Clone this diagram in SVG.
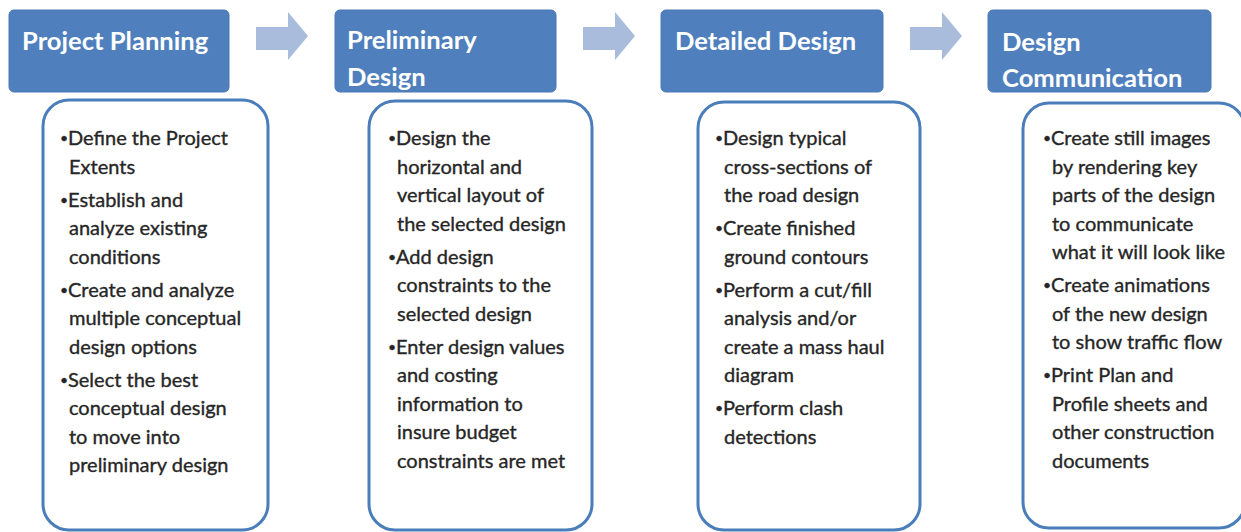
<svg xmlns="http://www.w3.org/2000/svg" width="1241" height="532" viewBox="0 0 1241 532">
<style>
.hdr{fill:#4f7fbd;stroke:#4a78b4;stroke-width:1}
.ttl{font-family:Lato,"Open Sans",sans-serif;font-weight:bold;font-size:25.6px;fill:#ffffff}
.box{fill:#ffffff;stroke:#4a7ebb;stroke-width:3}
.txt{font-family:Lato,"Open Sans",sans-serif;font-size:20px;fill:#262626;stroke:#262626;stroke-width:0.35}
.b{font-size:14px}
.arr{fill:#aabcdb}
</style>
<rect width="1241" height="532" fill="#ffffff"/>
<g id="connectors">
<path class="arr" d="M256,27 H288 V12 L308,36 L288,60 V50 H256 Z"/>
<path class="arr" d="M583,27 H615 V12 L635,36 L615,60 V50 H583 Z"/>
<path class="arr" d="M910,27 H942 V12 L962,36 L942,60 V50 H910 Z"/>
</g>
<g id="node-project-planning">
<rect class="hdr" x="9" y="10" width="220" height="82" rx="5"/>
<text class="ttl" x="22" y="50">Project Planning</text>
</g>
<g id="node-preliminary-design">
<rect class="hdr" x="335" y="10" width="221" height="82" rx="5"/>
<text class="ttl" x="347" y="49">Preliminary</text>
<text class="ttl" x="347" y="86">Design</text>
</g>
<g id="node-detailed-design">
<rect class="hdr" x="661" y="10" width="222" height="82" rx="5"/>
<text class="ttl" x="675" y="50">Detailed Design</text>
</g>
<g id="node-design-communication">
<rect class="hdr" x="988" y="10" width="223" height="82" rx="5"/>
<text class="ttl" x="1002" y="51">Design</text>
<text class="ttl" x="1002" y="87">Communication</text>
</g>
<g id="node-planning-tasks">
<rect class="box" x="43" y="100" width="225" height="430" rx="26"/>
<text class="txt" y="145"><tspan class="b" x="60" dy="-2">•</tspan><tspan x="68" dy="2">Define the Project</tspan></text>
<text class="txt" x="69" y="173.5">Extents</text>
<text class="txt" y="206.5"><tspan class="b" x="60" dy="-2">•</tspan><tspan x="68" dy="2">Establish and</tspan></text>
<text class="txt" x="69" y="235">analyze existing</text>
<text class="txt" x="69" y="263.5">conditions</text>
<text class="txt" y="296.5"><tspan class="b" x="60" dy="-2">•</tspan><tspan x="68" dy="2">Create and analyze</tspan></text>
<text class="txt" x="69" y="325">multiple conceptual</text>
<text class="txt" x="69" y="353.5">design options</text>
<text class="txt" y="386.5"><tspan class="b" x="60" dy="-2">•</tspan><tspan x="68" dy="2">Select the best</tspan></text>
<text class="txt" x="69" y="415">conceptual design</text>
<text class="txt" x="69" y="443.5">to move into</text>
<text class="txt" x="69" y="472">preliminary design</text>
</g>
<g id="node-preliminary-tasks">
<rect class="box" x="369" y="101" width="223" height="429" rx="26"/>
<text class="txt" y="145"><tspan class="b" x="388" dy="-2">•</tspan><tspan x="396" dy="2">Design the</tspan></text>
<text class="txt" x="397" y="173.5">horizontal and</text>
<text class="txt" x="397" y="202">vertical layout of</text>
<text class="txt" x="397" y="230.5">the selected design</text>
<text class="txt" y="263.5"><tspan class="b" x="388" dy="-2">•</tspan><tspan x="396" dy="2">Add design</tspan></text>
<text class="txt" x="397" y="292">constraints to the</text>
<text class="txt" x="397" y="320.5">selected design</text>
<text class="txt" y="353.5"><tspan class="b" x="388" dy="-2">•</tspan><tspan x="396" dy="2">Enter design values</tspan></text>
<text class="txt" x="397" y="382">and costing</text>
<text class="txt" x="397" y="410.5">information to</text>
<text class="txt" x="397" y="439">insure budget</text>
<text class="txt" x="397" y="467.5">constraints are met</text>
</g>
<g id="node-detailed-tasks">
<rect class="box" x="698" y="102" width="222" height="428" rx="26"/>
<text class="txt" y="145"><tspan class="b" x="715" dy="-2">•</tspan><tspan x="723" dy="2">Design typical</tspan></text>
<text class="txt" x="724" y="173.5">cross-sections of</text>
<text class="txt" x="724" y="202">the road design</text>
<text class="txt" y="235"><tspan class="b" x="715" dy="-2">•</tspan><tspan x="723" dy="2">Create finished</tspan></text>
<text class="txt" x="724" y="263.5">ground contours</text>
<text class="txt" y="296.5"><tspan class="b" x="715" dy="-2">•</tspan><tspan x="723" dy="2">Perform a cut/fill</tspan></text>
<text class="txt" x="724" y="325">analysis and/or</text>
<text class="txt" x="724" y="353.5">create a mass haul</text>
<text class="txt" x="724" y="382">diagram</text>
<text class="txt" y="415"><tspan class="b" x="715" dy="-2">•</tspan><tspan x="723" dy="2">Perform clash</tspan></text>
<text class="txt" x="724" y="443.5">detections</text>
</g>
<g id="node-communication-tasks">
<rect class="box" x="1023" y="103" width="222" height="425" rx="26"/>
<text class="txt" y="145"><tspan class="b" x="1043" dy="-2">•</tspan><tspan x="1051" dy="2">Create still images</tspan></text>
<text class="txt" x="1052" y="173.5">by rendering key</text>
<text class="txt" x="1052" y="202">parts of the design</text>
<text class="txt" x="1052" y="230.5">to communicate</text>
<text class="txt" x="1052" y="259">what it will look like</text>
<text class="txt" y="292"><tspan class="b" x="1043" dy="-2">•</tspan><tspan x="1051" dy="2">Create animations</tspan></text>
<text class="txt" x="1052" y="320.5">of the new design</text>
<text class="txt" x="1052" y="349">to show traffic flow</text>
<text class="txt" y="382"><tspan class="b" x="1043" dy="-2">•</tspan><tspan x="1051" dy="2">Print Plan and</tspan></text>
<text class="txt" x="1052" y="410.5">Profile sheets and</text>
<text class="txt" x="1052" y="439">other construction</text>
<text class="txt" x="1052" y="467.5">documents</text>
</g>
</svg>
